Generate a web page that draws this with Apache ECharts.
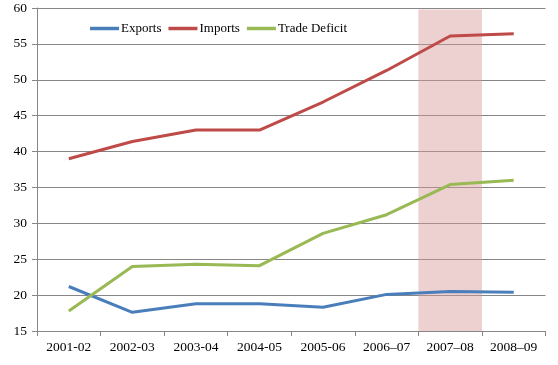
<!DOCTYPE html>
<html>
<head>
<meta charset="utf-8">
<script src="https://cdn.jsdelivr.net/npm/echarts@6/dist/echarts.min.js"></script>
<style>
html,body{margin:0;padding:0;background:#fff;}
#c{width:558px;height:365px;}
</style>
</head>
<body>
<div id="c"></div>
<script>
const categories = ['2001-02','2002-03','2003-04','2004-05','2005-06','2006–07','2007–08','2008–09'];
const exportsData = [21.2, 17.6, 18.8, 18.8, 18.3, 20.1, 20.5, 20.4];
const importsData = [39.0, 41.4, 43.0, 43.0, 46.9, 51.3, 56.1, 56.4];
const deficitData = [17.8, 24.0, 24.3, 24.1, 28.6, 31.2, 35.4, 36.0];
const shadedCategory = '2007–08';
const shadeTop = 59.8;
const yMin = 15, yMax = 60, yStep = 5;

const FONT = '"Liberation Serif", "DejaVu Serif", serif';
const shadeData = categories.map(c => c === shadedCategory ? shadeTop : '-');

const chart = echarts.init(document.getElementById('c'), null, {renderer:'canvas'});
chart.setOption({
  animation: false,
  backgroundColor: '#ffffff',
  textStyle: {fontFamily: FONT},
  grid: {left: 37, right: 12.5, top: 8, bottom: 34, containLabel: false},
  legend: {
    data: ['Exports','Imports','Trade Deficit'],
    left: 85, top: 17,
    icon: 'rect', itemWidth: 29, itemHeight: 3.5, itemGap: 7,
    textStyle: {fontFamily: FONT, fontSize: 13, color: '#000', padding: [0,0,0,-3]}
  },
  xAxis: {
    type: 'category', data: categories, boundaryGap: true,
    axisLine: {lineStyle: {color: '#868686', width: 1}},
    axisTick: {show: true, length: 5, lineStyle: {color: '#868686'}},
    axisLabel: {color: '#000', fontFamily: FONT, fontSize: 13.5, margin: 9, interval: 0},
    splitLine: {show: false}
  },
  yAxis: {
    type: 'value', min: yMin, max: yMax, interval: yStep,
    axisLine: {show: true, lineStyle: {color: '#868686', width: 1}},
    axisTick: {show: true, length: 5, lineStyle: {color: '#868686'}},
    axisLabel: {color: '#000', fontFamily: FONT, fontSize: 13.5, margin: 10},
    splitLine: {show: true, lineStyle: {color: '#868686', width: 1}}
  },
  series: [
    {
      name: 'shade', type: 'bar', data: shadeData, barWidth: '100%', silent: true,
      itemStyle: {color: 'rgba(214,150,150,0.45)'}, z: 1
    },
    {
      name: 'Exports', type: 'line', data: exportsData, symbol: 'none',
      lineStyle: {color: '#4a7ebb', width: 3}, itemStyle: {color: '#4a7ebb'}, z: 3
    },
    {
      name: 'Imports', type: 'line', data: importsData, symbol: 'none',
      lineStyle: {color: '#be4b48', width: 3}, itemStyle: {color: '#be4b48'}, z: 3
    },
    {
      name: 'Trade Deficit', type: 'line', data: deficitData, symbol: 'none',
      lineStyle: {color: '#98b954', width: 3}, itemStyle: {color: '#98b954'}, z: 3
    }
  ]
});
</script>
</body>
</html>
